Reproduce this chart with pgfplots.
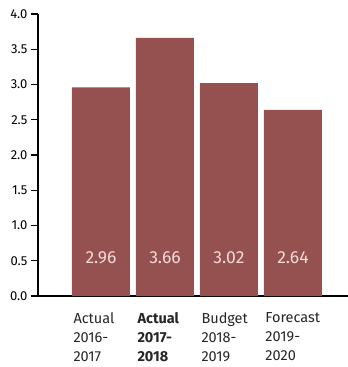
\documentclass[border=0pt]{standalone}
\usepackage{pgfplots}
\pgfplotsset{compat=1.18}
\usepackage{fontspec}
\setmainfont{Fira Sans}
\definecolor{barc}{RGB}{149,80,80}
\definecolor{lblc}{RGB}{242,218,218}
\begin{document}
\begin{tikzpicture}
\useasboundingbox (-38pt,-71pt) rectangle (310pt,296pt);
\begin{axis}[
  scale only axis, width=310pt, height=282pt,
  xmin=-0.984, xmax=3.86, ymin=0, ymax=4,
  axis x line*=bottom, axis y line*=left,
  axis line style={line width=1.2pt, black},
  ytick={0,0.5,1,1.5,2,2.5,3,3.5,4},
  /pgf/number format/assume math mode=true,
  yticklabel style={/pgf/number format/fixed, /pgf/number format/fixed zerofill, /pgf/number format/precision=1, font=\fontsize{13}{13}\selectfont},
  tick align=outside,
  major tick length=7pt,
  ytick style={black, line width=1.4pt},
  xtick={0,1,2,3},
  xtick style={draw=none},
  xticklabels={{Actual\\2016-\\2017},{\textbf{Actual}\\\textbf{2017-}\\\textbf{2018}},{Budget\\2018-\\2019},{Forecast\\2019-\\2020}},
  xticklabel style={align=left, anchor=north west, xshift=-31pt, yshift=-6pt, font=\fontsize{14.5}{19}\selectfont, text=black!85},
  clip=false,
]
\addplot[ybar, bar width=58pt, fill=barc, draw=none, bar shift=0pt] coordinates {(0,2.96) (1,3.66) (2,3.02) (3,2.64)};
\addplot[only marks, mark=none, nodes near coords, point meta=explicit symbolic,
  nodes near coords style={anchor=center, text=lblc, font=\fontsize{17.5}{17.5}\selectfont}]
  table[meta=label] {
x y label
0 0.54 2.96
1 0.54 3.66
2 0.54 3.02
3 0.54 2.64
};
\end{axis}
\end{tikzpicture}
\end{document}
